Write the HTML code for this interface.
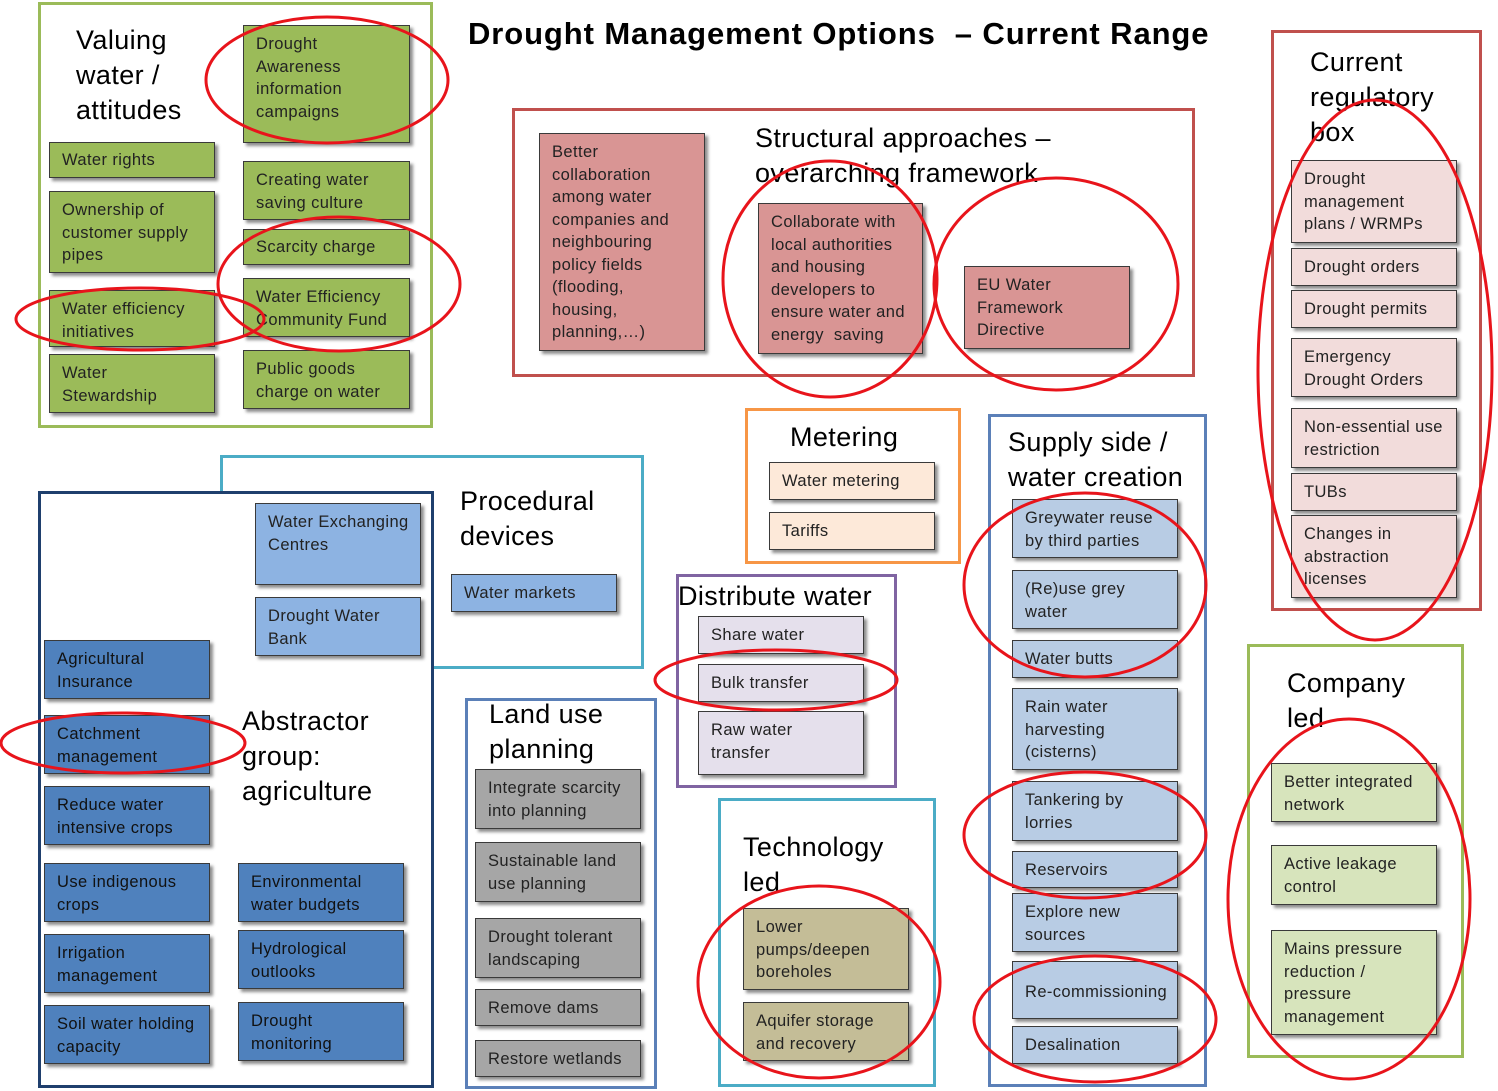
<!DOCTYPE html>
<html><head><meta charset="utf-8"><style>
body{margin:0;width:1498px;height:1091px;background:#fff;position:relative;overflow:hidden;font-family:"Liberation Sans",sans-serif}
.g{position:absolute;border:3px solid;box-sizing:border-box}
.b{position:absolute;box-sizing:border-box;border:1px solid #3a3a3a;box-shadow:3px 3px 3px rgba(0,0,0,.45);padding:7px 12px;font-size:16.5px;letter-spacing:0.4px;line-height:22.5px;color:#222;white-space:nowrap;overflow:visible}
.h{position:absolute;font-size:27px;letter-spacing:0.4px;line-height:35px;color:#000}
.gr{background:#9bbb59}.rd{background:#d99594}.pk{background:#f2dcdb}.pe{background:#fde9d9}
.lb{background:#b8cce4}.mb{background:#8db3e2}.db{background:#4f81bd;color:#111}.gy{background:#a6a6a6}
.lv{background:#e5e0ec}.kh{background:#c4bd97}.lg{background:#d7e4bc}
svg{position:absolute;left:0;top:0}
</style></head><body>
<div class="g" style="left:38px;top:2px;width:395px;height:426px;border-color:#9bbb59"></div>
<div class="g" style="left:512px;top:108px;width:683px;height:269px;border-color:#c0504d"></div>
<div class="g" style="left:1271px;top:30px;width:211px;height:581px;border-color:#c0504d"></div>
<div class="g" style="left:745px;top:408px;width:216px;height:156px;border-color:#f79646"></div>
<div class="g" style="left:988px;top:414px;width:219px;height:673px;border-color:#5b80b8"></div>
<div class="g" style="left:220px;top:455px;width:424px;height:214px;border-color:#4bacc6"></div>
<div class="g" style="left:38px;top:491px;width:396px;height:597px;border-color:#1f3f6d;background:#fff"></div>
<div class="g" style="left:676px;top:574px;width:221px;height:214px;border-color:#8064a2"></div>
<div class="g" style="left:465px;top:698px;width:192px;height:391px;border-color:#5b80b8"></div>
<div class="g" style="left:718px;top:798px;width:218px;height:289px;border-color:#4bacc6"></div>
<div class="g" style="left:1247px;top:644px;width:217px;height:414px;border-color:#9bbb59"></div>

<div style="position:absolute;left:468px;top:16px;font-size:31px;letter-spacing:0.9px;font-weight:bold;white-space:nowrap">Drought Management Options &nbsp;– Current Range</div>

<div class="h" style="left:76px;top:23px">Valuing<br>water /<br>attitudes</div>
<div class="h" style="left:755px;top:121px;white-space:nowrap">Structural approaches –<br>overarching framework</div>
<div class="h" style="left:1310px;top:45px">Current<br>regulatory<br>box</div>
<div class="h" style="left:790px;top:420px">Metering</div>
<div class="h" style="left:1008px;top:425px;white-space:nowrap">Supply side /<br>water creation</div>
<div class="h" style="left:460px;top:484px">Procedural<br>devices</div>
<div class="h" style="left:242px;top:704px">Abstractor<br>group:<br>agriculture</div>
<div class="h" style="left:678px;top:579px;white-space:nowrap">Distribute water</div>
<div class="h" style="left:489px;top:697px">Land use<br>planning</div>
<div class="h" style="left:743px;top:830px">Technology<br>led</div>
<div class="h" style="left:1287px;top:666px">Company<br>led</div>

<div class="b gr" style="left:243px;top:25px;width:167px;height:118px">Drought<br>Awareness<br>information<br>campaigns</div>
<div class="b gr" style="left:49px;top:142px;width:166px;height:36px;padding-top:6px">Water rights</div>
<div class="b gr" style="left:243px;top:161px;width:167px;height:59px">Creating water<br>saving culture</div>
<div class="b gr" style="left:49px;top:191px;width:166px;height:82px">Ownership of<br>customer supply<br>pipes</div>
<div class="b gr" style="left:243px;top:229px;width:167px;height:36px;padding-top:6px">Scarcity charge</div>
<div class="b gr" style="left:49px;top:290px;width:166px;height:57px">Water efficiency<br>initiatives</div>
<div class="b gr" style="left:243px;top:278px;width:167px;height:59px">Water Efficiency<br>Community Fund</div>
<div class="b gr" style="left:49px;top:354px;width:166px;height:59px">Water<br>Stewardship</div>
<div class="b gr" style="left:243px;top:350px;width:167px;height:59px">Public goods<br>charge on water</div>

<div class="b rd" style="left:539px;top:133px;width:166px;height:218px">Better<br>collaboration<br>among water<br>companies and<br>neighbouring<br>policy fields<br>(flooding,<br>housing,<br>planning,…)</div>
<div class="b rd" style="left:758px;top:203px;width:165px;height:151px">Collaborate with<br>local authorities<br>and housing<br>developers to<br>ensure water and<br>energy &nbsp;saving</div>
<div class="b rd" style="left:964px;top:266px;width:166px;height:83px">EU Water<br>Framework<br>Directive</div>

<div class="b pk" style="left:1291px;top:160px;width:166px;height:83px">Drought<br>management<br>plans / WRMPs</div>
<div class="b pk" style="left:1291px;top:248px;width:166px;height:38px">Drought orders</div>
<div class="b pk" style="left:1291px;top:290px;width:166px;height:38px">Drought permits</div>
<div class="b pk" style="left:1291px;top:338px;width:166px;height:59px">Emergency<br>Drought Orders</div>
<div class="b pk" style="left:1291px;top:408px;width:166px;height:60px">Non-essential use<br>restriction</div>
<div class="b pk" style="left:1291px;top:473px;width:166px;height:38px">TUBs</div>
<div class="b pk" style="left:1291px;top:515px;width:166px;height:83px">Changes in<br>abstraction<br>licenses</div>

<div class="b pe" style="left:769px;top:462px;width:166px;height:38px">Water metering</div>
<div class="b pe" style="left:769px;top:512px;width:166px;height:38px">Tariffs</div>

<div class="b lb" style="left:1012px;top:499px;width:166px;height:59px">Greywater reuse<br>by third parties</div>
<div class="b lb" style="left:1012px;top:570px;width:166px;height:59px">(Re)use grey<br>water</div>
<div class="b lb" style="left:1012px;top:640px;width:166px;height:38px">Water butts</div>
<div class="b lb" style="left:1012px;top:688px;width:166px;height:82px">Rain water<br>harvesting<br>(cisterns)</div>
<div class="b lb" style="left:1012px;top:781px;width:166px;height:60px">Tankering by<br>lorries</div>
<div class="b lb" style="left:1012px;top:851px;width:166px;height:37px">Reservoirs</div>
<div class="b lb" style="left:1012px;top:893px;width:166px;height:59px">Explore new<br>sources</div>
<div class="b lb" style="left:1012px;top:961px;width:166px;height:58px;padding-top:19px">Re-commissioning</div>
<div class="b lb" style="left:1012px;top:1026px;width:166px;height:38px">Desalination</div>

<div class="b mb" style="left:255px;top:503px;width:166px;height:82px">Water Exchanging<br>Centres</div>
<div class="b mb" style="left:255px;top:597px;width:166px;height:59px">Drought Water<br>Bank</div>
<div class="b mb" style="left:451px;top:574px;width:166px;height:38px">Water markets</div>

<div class="b db" style="left:44px;top:640px;width:166px;height:59px">Agricultural<br>Insurance</div>
<div class="b db" style="left:44px;top:715px;width:166px;height:59px">Catchment<br>management</div>
<div class="b db" style="left:44px;top:786px;width:166px;height:59px">Reduce water<br>intensive crops</div>
<div class="b db" style="left:44px;top:863px;width:166px;height:59px">Use indigenous<br>crops</div>
<div class="b db" style="left:238px;top:863px;width:166px;height:59px">Environmental<br>water budgets</div>
<div class="b db" style="left:44px;top:934px;width:166px;height:59px">Irrigation<br>management</div>
<div class="b db" style="left:238px;top:930px;width:166px;height:59px">Hydrological<br>outlooks</div>
<div class="b db" style="left:44px;top:1005px;width:166px;height:59px">Soil water holding<br>capacity</div>
<div class="b db" style="left:238px;top:1002px;width:166px;height:59px">Drought<br>monitoring</div>

<div class="b lv" style="left:698px;top:616px;width:166px;height:38px">Share water</div>
<div class="b lv" style="left:698px;top:664px;width:166px;height:38px">Bulk transfer</div>
<div class="b lv" style="left:698px;top:711px;width:166px;height:64px">Raw water<br>transfer</div>

<div class="b gy" style="left:475px;top:769px;width:166px;height:60px">Integrate scarcity<br>into planning</div>
<div class="b gy" style="left:475px;top:842px;width:166px;height:60px">Sustainable land<br>use planning</div>
<div class="b gy" style="left:475px;top:918px;width:166px;height:60px">Drought tolerant<br>landscaping</div>
<div class="b gy" style="left:475px;top:989px;width:166px;height:37px">Remove dams</div>
<div class="b gy" style="left:475px;top:1040px;width:166px;height:37px">Restore wetlands</div>

<div class="b kh" style="left:743px;top:908px;width:166px;height:82px">Lower<br>pumps/deepen<br>boreholes</div>
<div class="b kh" style="left:743px;top:1002px;width:166px;height:59px">Aquifer storage<br>and recovery</div>

<div class="b lg" style="left:1271px;top:763px;width:166px;height:59px">Better integrated<br>network</div>
<div class="b lg" style="left:1271px;top:845px;width:166px;height:60px">Active leakage<br>control</div>
<div class="b lg" style="left:1271px;top:930px;width:166px;height:105px">Mains pressure<br>reduction /<br>pressure<br>management</div>

<svg width="1498" height="1091" fill="none" stroke="#e8141b" stroke-width="3">
<ellipse cx="327" cy="80" rx="121" ry="63"/>
<ellipse cx="339" cy="284" rx="121" ry="67"/>
<ellipse cx="140" cy="319" rx="124" ry="31"/>
<ellipse cx="830" cy="279" rx="107" ry="118"/>
<ellipse cx="1056" cy="284" rx="122" ry="106"/>
<ellipse cx="1375" cy="370" rx="117" ry="270"/>
<ellipse cx="1085" cy="585" rx="121" ry="92"/>
<ellipse cx="1085" cy="835" rx="121" ry="63"/>
<ellipse cx="1095" cy="1019" rx="121" ry="63"/>
<ellipse cx="776" cy="680" rx="121" ry="30"/>
<ellipse cx="123" cy="743" rx="122" ry="30"/>
<ellipse cx="819" cy="982" rx="121" ry="96"/>
<ellipse cx="1349" cy="899" rx="121" ry="180"/>
</svg>
</body></html>
